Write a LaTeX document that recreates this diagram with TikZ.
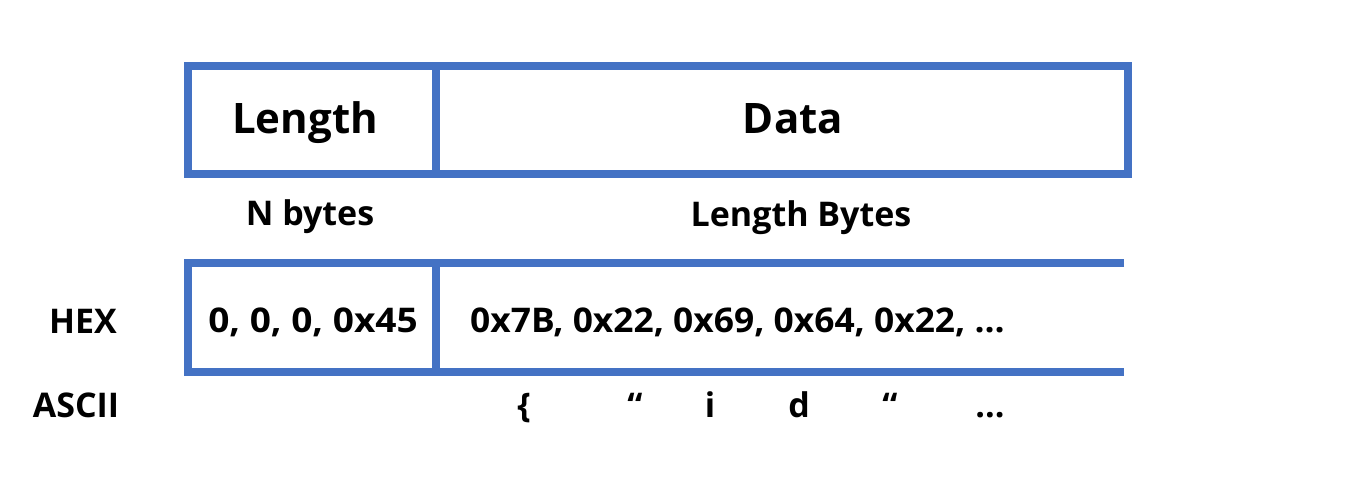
\documentclass[tikz,border=0pt]{standalone}
\usepackage{fontspec}
\setmainfont{Open Sans}
\begin{document}
\begin{tikzpicture}[x=1pt,y=-1pt,
  frame/.style={draw=framecol,line width=8pt,line join=miter,line cap=butt},
  title/.style={font=\bfseries\fontsize{42}{48}\selectfont,inner sep=0pt,anchor=base},
  lbl/.style={font=\bfseries\fontsize{34}{40}\selectfont,inner sep=0pt,anchor=base}]
\definecolor{framecol}{HTML}{4472C4}
\useasboundingbox (0,0) rectangle (1368,484);

% header row: Length | Data
\draw[frame] (188,66) rectangle (1128,174);
\draw[frame] (436,66) -- (436,174);
\node[title] (len) at (305,134) {Length};
\node[title] (data) at (793,134) {Data};

% sizes
\node[lbl] (nb) at (310,225) {N bytes};
\node[lbl] (lb) at (801,226) {Length Bytes};

% example row, open on the right
\draw[frame] (1124,263) -- (188,263) -- (188,372) -- (1124,372);
\draw[frame] (436,263) -- (436,372);
\node[lbl] (hex) at (83,333) {HEX};
\node[lbl] (lenval) at (313,332) {\scalebox{1.09}[1]{0, 0, 0, 0x45}};
\node[lbl,anchor=base west] (dataval) at (470,332) {\scalebox{1.04}[1]{0x7B, 0x22, 0x69, 0x64, 0x22, ...}};

% ASCII interpretation
\node[lbl] (ascii) at (76,417) {ASCII};
\node[lbl] (c1) at (524,417) {\{};
\node[lbl] (c2) at (635,417) {“};
\node[lbl] (c3) at (710,417) {i};
\node[lbl] (c4) at (799,417) {d};
\node[lbl] (c5) at (890,417) {“};
\node[lbl] (c6) at (990,417) {...};
\end{tikzpicture}
\end{document}
